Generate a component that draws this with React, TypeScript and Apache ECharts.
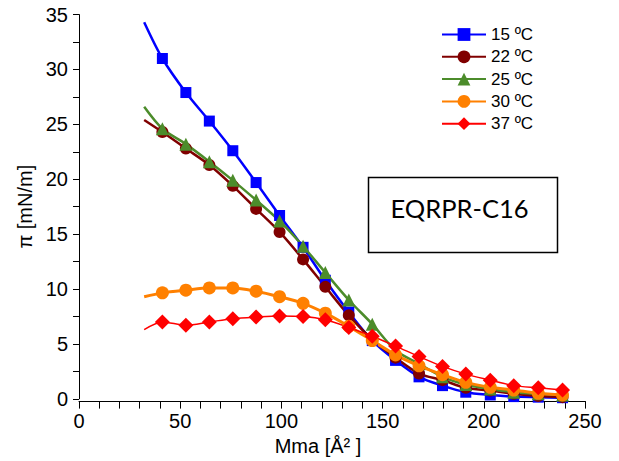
import React, { useEffect, useRef } from "react";
import * as echarts from "echarts";

const startX = 32.2;
const mma = [41.2, 52.8, 64.4, 76, 87.5, 99.1, 110.7, 121.7, 133.3, 144.9, 156.4, 168, 179.6, 191.1, 203.2, 214.8, 226.9, 238.9];

const names = ["15 ºC", "22 ºC", "25 ºC", "30 ºC", "37 ºC"];
const startValues = [34.3, 25.4, 26.6, 9.3, 6.3];
const pi15 = [31.0, 27.9, 25.3, 22.6, 19.7, 16.7, 13.8, 10.8, 7.9, 5.3, 3.5, 2.0, 1.2, 0.6, 0.35, 0.2, 0.15, 0.1];
const pi22 = [24.3, 22.8, 21.3, 19.4, 17.3, 15.2, 12.7, 10.2, 7.6, 5.4, 3.75, 2.3, 1.7, 1.0, 0.75, 0.45, 0.25, 0.15];
const pi25 = [24.6, 23.2, 21.6, 19.9, 18.1, 16.2, 13.9, 11.5, 9.0, 6.8, 4.4, 3.2, 2.0, 1.3, 0.9, 0.6, 0.45, 0.35];
const pi30 = [9.65, 9.9, 10.1, 10.1, 9.8, 9.3, 8.7, 7.8, 6.6, 5.3, 4.0, 3.0, 2.2, 1.5, 1.05, 0.8, 0.5, 0.35];
const pi37 = [7.0, 6.7, 7.0, 7.3, 7.45, 7.55, 7.5, 7.2, 6.5, 5.7, 4.8, 3.85, 2.95, 2.25, 1.7, 1.2, 1.0, 0.8];

const xTicks = [0, 250, 50];
const yTicks = [0, 35, 5];
const boxLabel = "EQRPR-C16";

const allValues = [pi15, pi22, pi25, pi30, pi37];
const colors = ["#0000FF", "#800000", "#4C8C2B", "#FF8000", "#FF0000"];
const symbols = ["rect", "circle", "triangle", "circle", "diamond"];
const symbolSizes = [11, 12, 13, 13, 15];
const lineWidths = [2.5, 2.5, 2.5, 3, 1.5];

const FONT = "'Liberation Sans', Arial, sans-serif";

export default function App() {
  const ref = useRef<HTMLDivElement>(null);
  useEffect(() => {
    if (!ref.current) return;
    const chart = echarts.init(ref.current, null, { renderer: "svg" });
    const series = names.map((name, i) => ({
      name,
      type: "line",
      smooth: 0.3,
      symbol: symbols[i],
      symbolSize: symbolSizes[i],
      showAllSymbol: true,
      color: colors[i],
      lineStyle: { width: lineWidths[i], color: colors[i] },
      itemStyle: { color: colors[i] },
      data: [
        { value: [startX, startValues[i]], symbol: "none" },
        ...mma.map((x, j) => [x, allValues[i][j]]),
      ],
    }));
    chart.setOption({
      animation: false,
      textStyle: { fontFamily: FONT },
      grid: { left: 79, right: 34, top: 14.6, bottom: 59.3, containLabel: false },
      legend: {
        orient: "vertical",
        left: 441,
        top: 26,
        padding: 0,
        itemWidth: 44,
        itemHeight: 16,
        itemGap: 5.3,
        itemTextGap: 11,
        textStyle: { fontSize: 17, color: "#000", fontFamily: FONT },
        data: names,
      },
      xAxis: {
        type: "value",
        min: xTicks[0],
        max: xTicks[1],
        interval: xTicks[2],
        offset: 2.3,
        name: "Mma [Å² ]",
        nameLocation: "middle",
        nameGap: 29,
        nameTextStyle: { fontSize: 20, color: "#000", fontFamily: FONT, padding: [0, 28, 0, 0] },
        axisLine: { onZero: false, lineStyle: { color: "#000", width: 1 } },
        axisTick: { show: true, inside: false, length: 7.5, lineStyle: { color: "#000" } },
        minorTick: { show: true, splitNumber: 5, length: 7.5, lineStyle: { color: "#000" } },
        axisLabel: { fontSize: 20, color: "#000", margin: 10, fontFamily: FONT },
        splitLine: { show: false },
      },
      yAxis: {
        type: "value",
        min: yTicks[0],
        max: yTicks[1],
        interval: yTicks[2],
        name: "π [mN/m]",
        nameLocation: "middle",
        nameGap: 42,
        nameTextStyle: { fontSize: 20, color: "#000", fontFamily: FONT },
        axisLine: { show: true, onZero: false, lineStyle: { color: "#000", width: 1 } },
        axisTick: { show: true, inside: false, length: 6, lineStyle: { color: "#000" } },
        minorTick: { show: true, splitNumber: 2, length: 6, lineStyle: { color: "#000" } },
        axisLabel: { fontSize: 20, color: "#000", margin: 11, fontFamily: FONT },
        splitLine: { show: false },
      },
      graphic: [
        {
          type: "rect",
          shape: { x: 368.5, y: 177.5, width: 189, height: 75 },
          style: { fill: "#fff", stroke: "#000", lineWidth: 1.5 },
          z: 10,
        },
        {
          type: "text",
          x: 390.5,
          y: 208,
          style: {
            text: boxLabel,
            fontSize: 25.5,
            fontFamily: "Lato, 'Liberation Sans', sans-serif",
            fill: "#000",
            verticalAlign: "middle",
            align: "left",
          },
          z: 11,
        },
      ],
      series,
    });
    return () => chart.dispose();
  }, []);
  return <div ref={ref} style={{ width: 619, height: 461, position: "absolute", left: 0, top: 0 }} />;
}
